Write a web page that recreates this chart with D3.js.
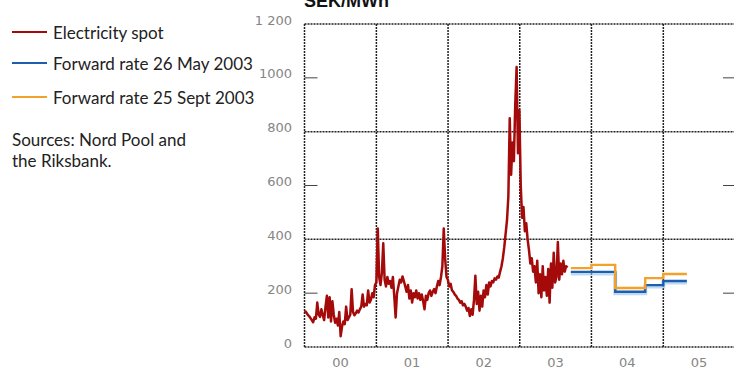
<!DOCTYPE html>
<html><head><meta charset="utf-8">
<script src="https://cdn.jsdelivr.net/npm/d3@7"></script>
<style>body{margin:0;background:#fff} svg{display:block}</style>
</head><body><svg id="c" width="734" height="370"></svg>
<script>
// ---- data ----
const spotStart = "2000-01-03";   // weekly observations
const spotStepDays = 7;
const spotValues = [
 135,128,120,115,108,100,92,110,105,165,120,112,140,118,100,150,190,110,185,95,170,120,90,105,80,130,40,75,95,85,150,100,110,120,215,130,118,125,135,128,140,150,195,150,160,155,210,165,175,200,185,230,
 240,440,260,230,275,385,250,225,260,235,245,220,260,190,110,200,225,250,240,262,245,225,205,230,180,210,165,200,185,210,180,200,175,195,170,140,190,175,200,210,190,205,215,200,225,245,230,260,300,440,330,260,
 250,225,235,210,205,195,190,180,175,165,170,155,160,150,135,145,115,140,120,175,265,160,205,135,190,150,210,185,230,195,240,225,245,240,255,250,262,258,280,300,330,370,420,470,560,850,640,760,690,900,1040,720,
 880,600,480,520,430,460,400,360,310,330,280,300,240,320,200,270,185,300,210,260,190,290,165,310,220,350,240,260,390,250,310,270,320,280,300,295
];
const fwdMayBreaks = ["2003-09-18","2004-05-01","2004-10-01","2005-01-01"];
const fwdMayValues = [279,205,230,245];
const fwdSeptBreaks = ["2003-09-18","2004-01-01","2004-05-01","2004-10-01","2005-01-01"];
const fwdSeptValues = [293,305,219,256,271];
const fwdEnd = "2005-05-01";
const yTicks = [0,200,400,600,800,1000,1200];
const yTickLabels = ["0","200","400","600","800","1000","1 200"];
const gridY = [0,400,800,1200];
const minorY = [200,600,1000];
const yearLabels = ["00","01","02","03","04","05"];
const legendNames = ["Electricity spot","Forward rate 26 May 2003","Forward rate 25 Sept 2003"];
const colors = ["#a50a0a","#1f5eae","#f2a22a"];
const unitTitle = "SEK/MWh";
const sourceLines = ["Sources: Nord Pool and","the Riksbank."];

// ---- chart ----
const svg = d3.select("#c");
const parse = d3.timeParse("%Y-%m-%d");
const x = d3.scaleTime().domain([new Date(2000,0,1), new Date(2006,0,1)]).range([304.5, 735]);
const y = d3.scaleLinear().domain([0,1200]).range([347,24]);

const grid = svg.append("g").attr("stroke","#222").attr("stroke-width",1.5).attr("stroke-dasharray","2,1");
gridY.forEach(v => grid.append("line").attr("x1",x.range()[0]).attr("x2",x.range()[1]).attr("y1",y(v)).attr("y2",y(v)));
d3.range(2000,2007).forEach(yr => {
  const xx = x(new Date(yr,0,1));
  grid.append("line").attr("x1",xx).attr("x2",xx).attr("y1",y(1200)).attr("y2",y(0));
});
// inward minor ticks on both sides
minorY.forEach(v => {
  svg.append("line").attr("x1",x.range()[0]).attr("x2",x.range()[0]+13).attr("y1",y(v)).attr("y2",y(v)).attr("stroke","#444").attr("stroke-width",1);
  svg.append("line").attr("x1",x.range()[1]-12).attr("x2",x.range()[1]).attr("y1",y(v)).attr("y2",y(v)).attr("stroke","#444").attr("stroke-width",1);
});

// y labels
svg.append("g").selectAll("text").data(yTicks).join("text")
  .attr("x",292).attr("y",d=>y(d)-4).attr("dy","0.35em").attr("text-anchor","end")
  .attr("font-family","DejaVu Sans").attr("font-size",13).attr("fill","#858585")
  .text((d,i)=>yTickLabels[i]);
// x labels
svg.append("g").selectAll("text").data(yearLabels).join("text")
  .attr("x",(d,i)=>x(new Date(2000+i,6,2))).attr("y",362).attr("dy","0.35em").attr("text-anchor","middle")
  .attr("font-family","DejaVu Sans").attr("font-size",13).attr("fill","#858585")
  .text(d=>d);

// spot line
const t0 = parse(spotStart);
const spot = spotValues.map((v,i)=>({d:d3.timeDay.offset(t0,i*spotStepDays), v}));
svg.append("path").datum(spot)
  .attr("fill","none").attr("stroke",colors[0]).attr("stroke-width",2.5).attr("stroke-linejoin","round")
  .attr("d", d3.line().x(d=>x(d.d)).y(d=>y(d.v)));

function stepPts(breaks, vals){
  const p = breaks.map((b,i)=>({d:parse(b), v:vals[i]}));
  p.push({d:parse(fwdEnd), v:vals[vals.length-1]});
  return p;
}
const stepLine = d3.line().curve(d3.curveStepAfter).x(d=>x(d.d)).y(d=>y(d.v));
svg.append("path").datum(stepPts(fwdMayBreaks,fwdMayValues))
  .attr("fill","none").attr("stroke","#8fc3ea").attr("stroke-width",4).attr("opacity",0.6)
  .attr("transform","translate(0,1.5)").attr("d",stepLine);
svg.append("path").datum(stepPts(fwdMayBreaks,fwdMayValues))
  .attr("fill","none").attr("stroke",colors[1]).attr("stroke-width",2.4).attr("d",stepLine);
svg.append("path").datum(stepPts(fwdSeptBreaks,fwdSeptValues))
  .attr("fill","none").attr("stroke",colors[2]).attr("stroke-width",2.4).attr("d",stepLine);

// title (partly cut by the top edge, as in the reference)
svg.append("text").attr("x",304).attr("y",7).attr("font-family","Liberation Sans, Arial").attr("font-weight","bold")
  .attr("font-size",18).attr("fill","#111").text(unitTitle);

// legend
const lg = svg.append("g");
const ly = [32,63,97];
legendNames.forEach((n,i)=>{
  lg.append("line").attr("x1",12).attr("x2",47).attr("y1",ly[i]).attr("y2",ly[i]).attr("stroke",colors[i]).attr("stroke-width",2);
  lg.append("text").attr("x",53).attr("y",ly[i]+7).attr("font-family","Lato").attr("font-size",17).attr("fill","#222").text(n);
});
sourceLines.forEach((s,i)=>{
  lg.append("text").attr("x",12).attr("y",146+i*20.5).attr("font-family","Lato").attr("font-size",17).attr("fill","#222").text(s);
});
</script></body></html>
